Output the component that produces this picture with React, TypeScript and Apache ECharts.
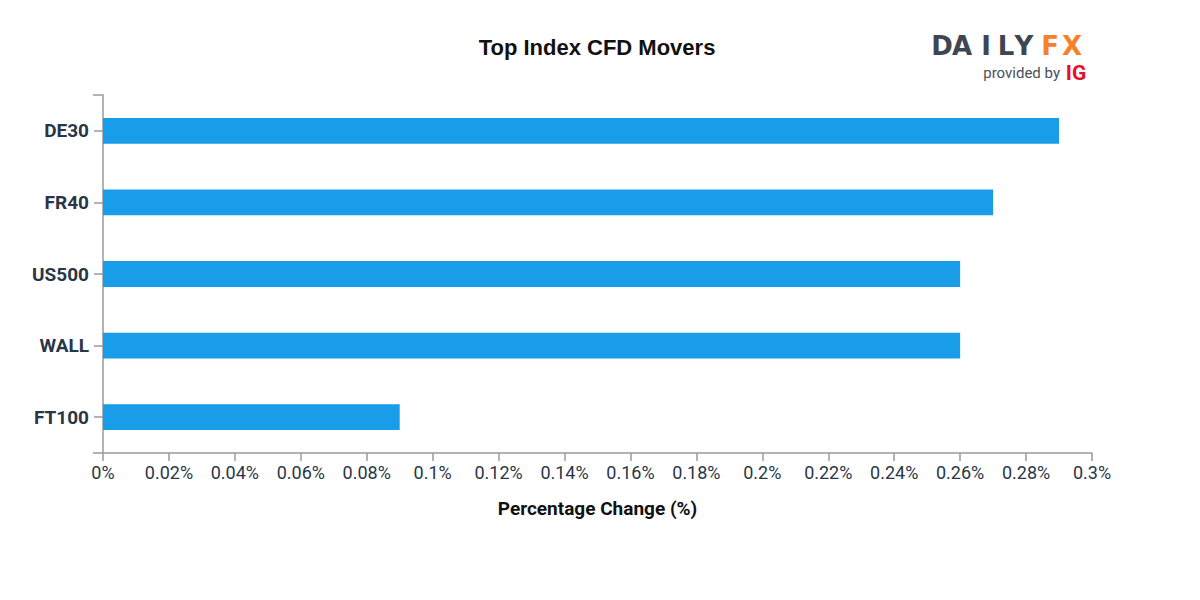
import React, { useEffect, useRef } from "react";
import * as echarts from "echarts";

const categories = ["DE30", "FR40", "US500", "WALL", "FT100"];
const values = [0.29, 0.27, 0.26, 0.26, 0.09];
const xTicks = { min: 0, max: 0.3, interval: 0.02 };
const logoLetters = ["D", "A", "I", "L", "Y", "F", "X"];
const logoX = [942, 962, 986, 1006, 1024, 1050, 1072];
const logoColors = ["#3e4653", "#3e4653", "#3e4653", "#3e4653", "#3e4653", "#f5822a", "#f5822a"];

export default function App() {
  const ref = useRef<HTMLDivElement>(null);
  useEffect(() => {
    if (!ref.current) return;
    const chart = echarts.init(ref.current, null, { renderer: "svg" });
    const labelColor = "#2a3646";
    const axisColor = "#9a9a9a";
    chart.setOption({
      animation: false,
      backgroundColor: "#ffffff",
      title: {
        text: "Top Index CFD Movers",
        left: 592,
        top: 31,
        textAlign: "center",
        textStyle: { fontFamily: "Liberation Sans", fontSize: 22, fontWeight: "bold", color: "#111" },
      },
      graphic: [
        ...logoLetters.map((ch, i) => ({
          type: "text",
          x: logoX[i],
          y: 46,
          style: {
            text: ch,
            fill: logoColors[i],
            font: "bold 26px DejaVu Sans",
            textAlign: "center",
            textVerticalAlign: "middle",
          },
        })),
        {
          type: "text",
          x: 1060,
          y: 73,
          style: { text: "provided by", fill: "#4a4f57", font: "15px Roboto", textAlign: "right", textVerticalAlign: "middle" },
        },
        {
          type: "text",
          x: 1076,
          y: 73,
          style: { text: "IG", fill: "#e3122b", font: "bold 21px Roboto", textAlign: "center", textVerticalAlign: "middle" },
        },
      ],
      grid: { left: 103, right: 108, top: 95, bottom: 147, containLabel: false },
      xAxis: {
        type: "value",
        min: xTicks.min,
        max: xTicks.max,
        interval: xTicks.interval,
        name: "Percentage Change (%)",
        nameLocation: "middle",
        nameGap: 46,
        nameTextStyle: { fontFamily: "Roboto", fontSize: 19, fontWeight: "bold", color: "#111" },
        axisLine: { show: true, lineStyle: { color: axisColor, width: 1.5 } },
        axisTick: { show: true, length: 8, lineStyle: { color: axisColor, width: 1.5 } },
        splitLine: { show: false },
        axisLabel: {
          margin: 10,
          fontFamily: "Roboto",
          fontSize: 18,
          color: labelColor,
          formatter: (v: number) => `${parseFloat(v.toFixed(4))}%`,
        },
      },
      yAxis: [
        {
          type: "category",
          data: categories,
          inverse: true,
          position: "left",
          offset: 0,
          axisLine: { show: false },
          axisTick: { show: true, alignWithLabel: true, length: 9, lineStyle: { color: axisColor, width: 1.5 } },
          axisLabel: { margin: 14, fontFamily: "Roboto", fontSize: 19, fontWeight: "bold", color: labelColor },
        },
        {
          type: "value",
          min: 0,
          max: 1,
          interval: 1,
          position: "left",
          offset: 0,
          axisLine: { show: true, lineStyle: { color: axisColor, width: 1.5 } },
          axisTick: { show: true, length: 10, lineStyle: { color: axisColor, width: 1.5 } },
          axisLabel: { show: false },
          splitLine: { show: false },
        },
      ],
      series: [
        {
          type: "bar",
          data: values,
          barWidth: "36%",
          itemStyle: { color: "#1a9de8" },
        },
      ],
    });
    return () => chart.dispose();
  }, []);
  return <div ref={ref} style={{ width: 1200, height: 600, position: "absolute", left: 0, top: 0 }} />;
}
